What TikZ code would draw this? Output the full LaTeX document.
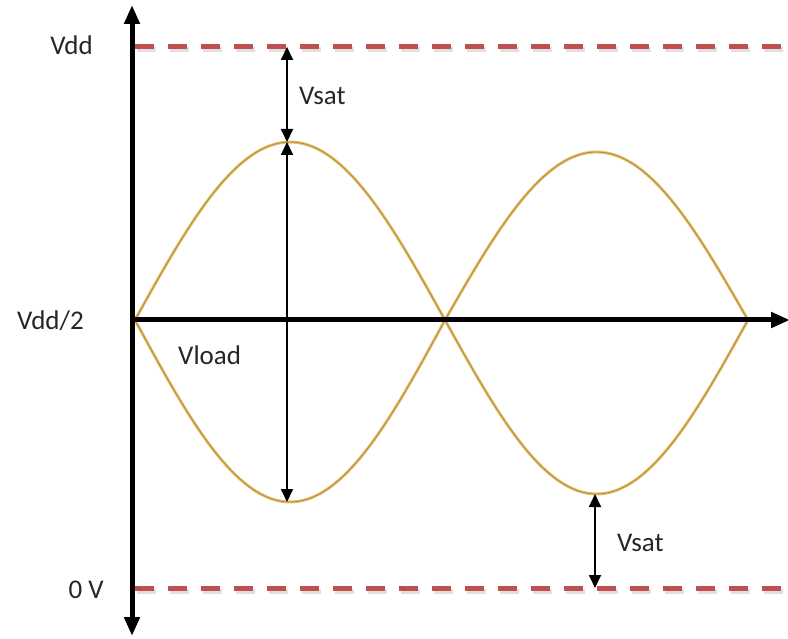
\documentclass[tikz,border=0pt]{standalone}
\usepackage{fontspec}
\setmainfont{Carlito}
\usetikzlibrary{arrows.meta, positioning}
\definecolor{cLimit}{HTML}{C0504D}
\definecolor{cWave}{HTML}{E9C268}
\definecolor{cWaveCore}{HTML}{A8884C}

\begin{document}
\begin{tikzpicture}[
  x=1pt, y=-1pt,
  font=\fontsize{27}{32}\selectfont,
  axis/.style={line width=5pt, draw=black, arrows={-Triangle[length=19pt, width=15pt]}},
  limit/.style={line width=5pt, draw=cLimit, dash pattern=on 19pt off 14pt},
  shade/.style={line width=5pt, draw=black!12, dash pattern=on 19pt off 14pt},
  wave/.style={line width=3pt, draw=cWave},
  wavecore/.style={line width=0.8pt, draw=cWaveCore},
  span/.style={line width=1.8pt, draw=black, arrows={Triangle[length=13pt, width=12pt]-Triangle[length=13pt, width=12pt]}},
  lbl/.style={inner sep=0pt, text=black!85},
]
\useasboundingbox (0,0) rectangle (788,639);

% =========================== supply limits ===========================
\coordinate (vddL) at (135,47);  \coordinate (vddR) at (788,47);
\coordinate (gndL) at (135,588); \coordinate (gndR) at (788,588);
\draw[shade] ([shift={(1.5,3)}]vddL) -- ([shift={(1.5,3)}]vddR);
\draw[shade] ([shift={(1.5,3)}]gndL) -- ([shift={(1.5,3)}]gndR);
\draw[limit] (vddL) -- (vddR);
\draw[limit] (gndL) -- (gndR);

% =========================== output waves ===========================
\foreach \xa/\xb/\amp in {135/445/-178, 445/748/174, 135/445/182, 445/748/-168} {
  \draw[wave] plot[domain=\xa:\xb, samples=70] (\x, {320 + \amp*sin((\x-\xa)/(\xb-\xa)*180)});
  \draw[wavecore] plot[domain=\xa:\xb, samples=70] (\x, {320 + \amp*sin((\x-\xa)/(\xb-\xa)*180)});
}

% =========================== axes ===========================
\coordinate (org) at (132,320);
\coordinate (ytop) at (132,5);
\coordinate (ybot) at (132,636);
\coordinate (xend) at (790,320);
\draw[axis] (org) -- (ytop);
\draw[axis] (org) -- (ybot);
\draw[axis] (org) -- (xend);

% =========================== headroom / swing ===========================
\coordinate (topA) at (287,47);
\coordinate (pk1)  at (287,142);
\coordinate (tr1)  at (287,502);
\coordinate (tr2)  at (595,494);
\coordinate (botB) at (595,588);
\draw[span] (topA) -- (pk1);
\draw[span] (pk1) -- (tr1);
\draw[span] (tr2) -- (botB);

% =========================== labels ===========================
\node[lbl, anchor=east] (lvdd)  at (93,45)   {Vdd};
\node[lbl, anchor=east] (lmid)  at (84,321)  {Vdd/2};
\node[lbl, anchor=east] (lgnd)  at (104,590) {0 V};
\node[lbl, anchor=west] (lsat1) at (299,96)  {Vsat};
\node[lbl, anchor=west] (lload) at (178,355) {Vload};
\node[lbl, anchor=west] (lsat2) at (617,543) {Vsat};

\end{tikzpicture}
\end{document}
